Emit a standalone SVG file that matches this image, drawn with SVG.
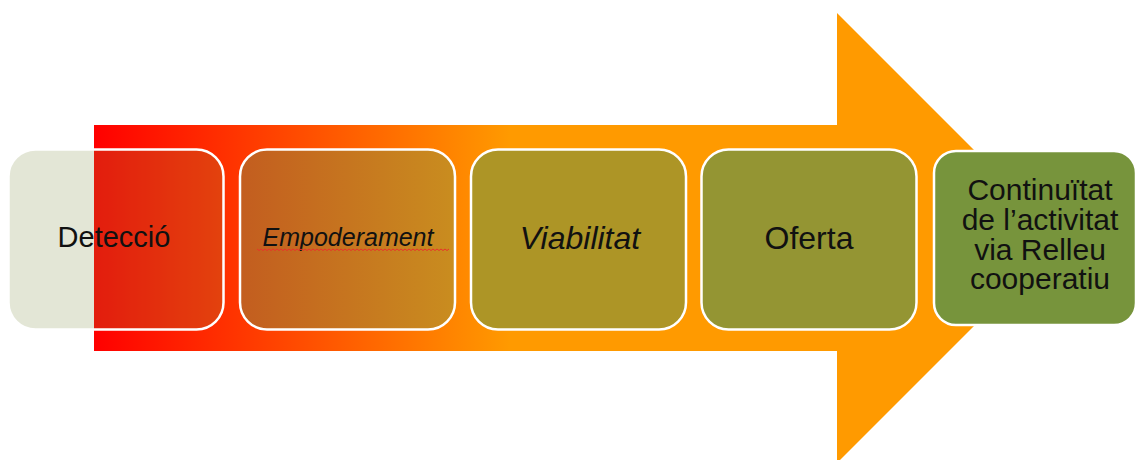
<svg xmlns="http://www.w3.org/2000/svg" width="1138" height="460" viewBox="0 0 1138 460">
  <defs>
    <linearGradient id="arrowGrad" gradientUnits="userSpaceOnUse" x1="94" y1="0" x2="510" y2="0">
      <stop offset="0" stop-color="#ff0000"/>
      <stop offset="0.5" stop-color="#ff4d00"/>
      <stop offset="1" stop-color="#ff9a00"/>
    </linearGradient>
    <linearGradient id="box2Grad" gradientUnits="userSpaceOnUse" x1="240" y1="0" x2="455" y2="0">
      <stop offset="0" stop-color="#c35d1f"/>
      <stop offset="1" stop-color="#c98d1f"/>
    </linearGradient>
    <style>
      .box { stroke: #ffffff; stroke-width: 2.5; }
      .lbl { font-family: "Liberation Sans", Arial, sans-serif; fill: #111111; text-anchor: middle; }
      .it { font-style: italic; }
    </style>
  </defs>

  <rect x="0" y="0" width="1138" height="460" fill="#ffffff"/>

  <g id="arrow">
    <polygon points="94,125 837,125 837,13 1062,238 837,463 837,351 94,351" fill="url(#arrowGrad)"/>
  </g>

  <g id="connectors"></g>

  <g id="node-deteccio">
    <rect class="box" x="8.5" y="149.5" width="215" height="180" rx="27" ry="27" fill="rgb(121,136,60)" fill-opacity="0.21"/>
    <text class="lbl" x="114" y="247" font-size="29">Detecció</text>
  </g>

  <g id="node-empoderament">
    <rect class="box" x="240" y="149.5" width="215" height="180" rx="27" ry="27" fill="url(#box2Grad)"/>
    <text class="lbl it" x="348" y="246" font-size="25">Empoderament</text>
    <path d="M257,249 l2,1.5 l2,-1.5 l2,1.5 l2,-1.5 l2,1.5 l2,-1.5 l2,1.5 l2,-1.5 l2,1.5 l2,-1.5 l2,1.5 l2,-1.5 l2,1.5 l2,-1.5 l2,1.5 l2,-1.5 l2,1.5 l2,-1.5 l2,1.5 l2,-1.5 l2,1.5 l2,-1.5 l2,1.5 l2,-1.5 l2,1.5 l2,-1.5 l2,1.5 l2,-1.5 l2,1.5 l2,-1.5 l2,1.5 l2,-1.5 l2,1.5 l2,-1.5 l2,1.5 l2,-1.5 l2,1.5 l2,-1.5 l2,1.5 l2,-1.5 l2,1.5 l2,-1.5 l2,1.5 l2,-1.5 l2,1.5 l2,-1.5 l2,1.5 l2,-1.5 l2,1.5 l2,-1.5 l2,1.5 l2,-1.5 l2,1.5 l2,-1.5 l2,1.5 l2,-1.5 l2,1.5 l2,-1.5 l2,1.5 l2,-1.5 l2,1.5 l2,-1.5 l2,1.5 l2,-1.5 l2,1.5 l2,-1.5 l2,1.5 l2,-1.5 l2,1.5 l2,-1.5 l2,1.5 l2,-1.5 l2,1.5 l2,-1.5 l2,1.5 l2,-1.5 l2,1.5 l2,-1.5 l2,1.5 l2,-1.5 l2,1.5 l2,-1.5 l2,1.5 l2,-1.5 l2,1.5 l2,-1.5 l2,1.5 l2,-1.5 l2,1.5 l2,-1.5 l2,1.5 l2,-1.5 l2,1.5 l2,-1.5 l2,1.5 l2,-1.5" fill="none" stroke="#e8322a" stroke-width="1"/>
  </g>

  <g id="node-viabilitat">
    <rect class="box" x="471" y="149.5" width="215" height="180" rx="27" ry="27" fill="#ad9526"/>
    <text class="lbl it" x="580" y="249" font-size="32">Viabilitat</text>
  </g>

  <g id="node-oferta">
    <rect class="box" x="701.5" y="149.5" width="215" height="180" rx="27" ry="27" fill="#949533"/>
    <text class="lbl" x="809" y="249" font-size="32">Oferta</text>
  </g>

  <g id="node-continuitat">
    <rect class="box" x="934" y="151" width="202" height="174" rx="22" ry="22" fill="#77943c"/>
    <text class="lbl" x="1040" y="200" font-size="30">Continuïtat</text>
    <text class="lbl" x="1040" y="230" font-size="30">de l’activitat</text>
    <text class="lbl" x="1040" y="260" font-size="30">via Relleu</text>
    <text class="lbl" x="1040" y="289" font-size="30">cooperatiu</text>
  </g>
</svg>
